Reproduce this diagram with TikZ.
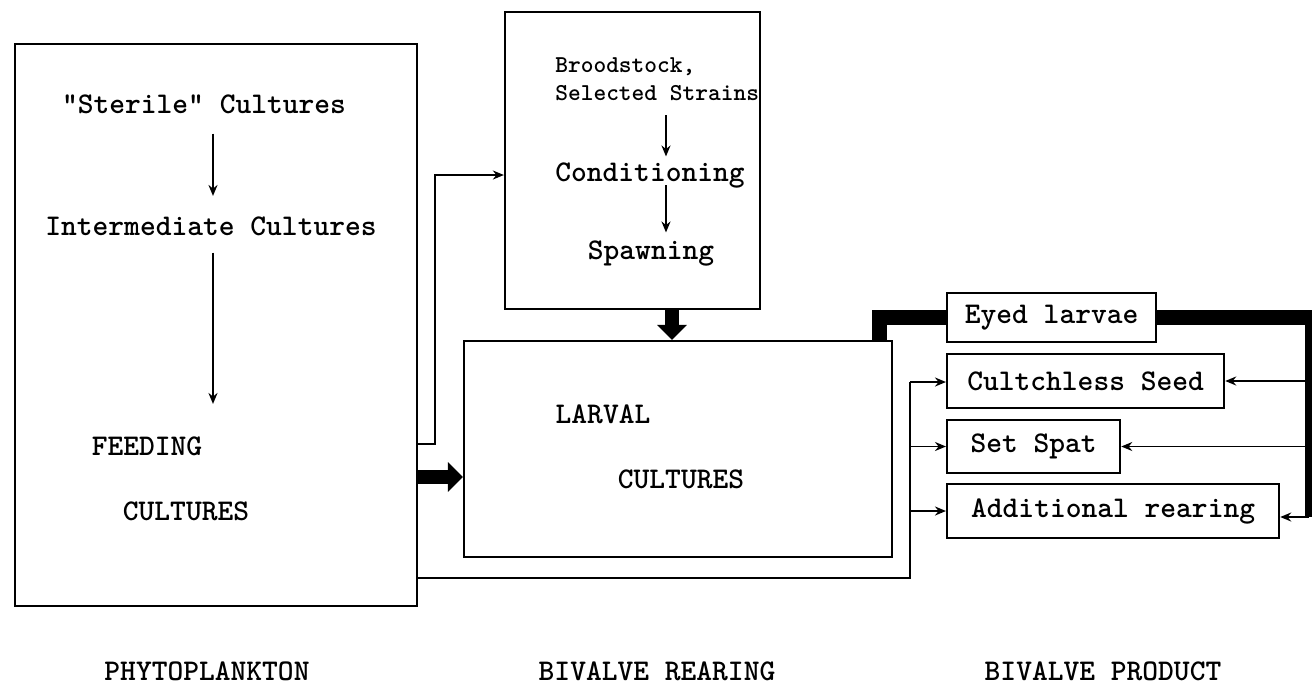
\documentclass[tikz,border=0pt]{standalone}
\usetikzlibrary{arrows.meta}
\begin{document}
\begin{tikzpicture}[x=0.02cm, y=-0.02cm,
    box/.style={draw, line width=1.3pt, inner sep=0pt},
    smallbox/.style={box, anchor=west, minimum height=1.08cm, font=\fontsize{17.1}{20}\selectfont\ttfamily\bfseries},
    txt/.style={font=\fontsize{17.1}{20}\selectfont\ttfamily\bfseries, inner sep=0pt, anchor=base},
    smalltxt/.style={txt, font=\fontsize{13.8}{16}\selectfont\ttfamily\bfseries, anchor=base west},
    wire/.style={line width=1.1pt},
    flow/.style={-{Stealth[length=0.22cm,width=0.18cm]}, line width=1.1pt},
    heavy/.style={line width=0.3cm},
    heavyarrow/.style={-{Triangle[length=0.3cm,width=0.58cm]}, line width=0.27cm}]
    \useasboundingbox (0,0) rectangle (1313,691);

    % the three big blocks
    \node[box, minimum width=8.04cm, minimum height=11.24cm] (feed) at (216,325) {} ;
    \node[box, minimum width=5.1cm, minimum height=5.94cm] (brood) at (632.5,160.5) {} ;
    \node[box, minimum width=8.56cm, minimum height=4.32cm] (larval) at (678,449) {} ;

    % products
    \node[smallbox, minimum width=4.18cm, minimum height=0.98cm] (eyed) at (946,317.5) {Eyed larvae} ;
    \node[smallbox, minimum width=5.54cm] (cult) at (946,381) {Cultchless Seed} ;
    \node[smallbox, minimum width=3.46cm, minimum height=1.06cm] (spat) at (946,446.5) {Set Spat} ;
    \node[smallbox, minimum width=6.64cm] (addl) at (946,511) {Additional rearing} ;

    % texts inside the blocks
    \node[txt] (sterile) at (204,113) {"Sterile" Cultures} ;
    \node[txt] (inter) at (211,235) {Intermediate Cultures} ;
    \node[txt] (feeding) at (147,455) {FEEDING} ;
    \node[txt] (fcult) at (186,520) {CULTURES} ;
    \node[smalltxt] (brood1) at (555,72) {Broodstock,} ;
    \node[smalltxt] (brood2) at (555,100) {Selected Strains} ;
    \node[txt] (cond) at (650,181) {Conditioning} ;
    \node[txt] (spawn) at (651,259) {Spawning} ;
    \node[txt] (larv) at (603,423) {LARVAL} ;
    \node[txt] (lcult) at (681,488) {CULTURES} ;

    % column titles
    \node[txt] (phyto) at (207,680) {PHYTOPLANKTON} ;
    \node[txt] (rearing) at (657,680) {BIVALVE REARING} ;
    \node[txt] (product) at (1103,680) {BIVALVE PRODUCT} ;

    \coordinate (fdx) at (213,0) ;
    \coordinate (bdx) at (666,0) ;
    \coordinate (tdx) at (672,0) ;
    \coordinate (upjog) at (435,444) ;
    \coordinate (feedlvl) at (0,477) ;
    \coordinate (splitlo) at (910,578) ;
    \coordinate (splithi) at (910,382) ;
    \coordinate (eyejog) at (879,317.5) ;
    \coordinate (rtop) at (1312,317.5) ;
    \coordinate (rbot) at (1308.5,517) ;

    \draw[flow, shorten <=0.4cm, shorten >=0.4cm] (sterile.south -| fdx) -- (inter.north -| fdx) ;
    \draw[flow, shorten <=0.34cm, shorten >=0.64cm] (inter.south -| fdx) -- (feeding.north -| fdx) ;
    \draw[flow, shorten <=0.3cm, shorten >=0.11cm] (brood2.base -| bdx) -- (cond.north -| bdx) ;
    \draw[flow, shorten <=0.08cm, shorten >=0.15cm] (cond.base -| bdx) -- (spawn.north -| bdx) ;

    \draw[heavyarrow] (feed.east |- feedlvl) -- (larval.west |- feedlvl) ;
    \draw[heavyarrow] (brood.south -| tdx) -- (larval.north -| tdx) ;
    \draw[flow] (feed.east |- upjog) -- (upjog) |- (brood.west |- cond) ;

    \draw[wire] (feed.east |- splitlo) -- (splitlo) -- (splithi) ;
    \draw[flow] (splithi) -- (cult.west |- splithi) ;
    \draw[flow] (splitlo |- spat.west) -- (spat.west) ;
    \draw[flow] (splitlo |- addl.west) -- (addl.west) ;

    \draw[heavy] (eyejog |- larval.north) -- (eyejog) -- (eyed.west) ;
    \draw[heavy] (eyed.east) -- (rtop) ;
    \draw[line width=0.14cm] (rbot |- rtop) -- (rbot) ;
    \draw[flow] (rbot |- cult.east) -- (cult.east) ;
    \draw[flow] (rbot |- spat.east) -- (spat.east) ;
    \draw[flow] (rbot) -- (addl.east |- rbot) ;

\end{tikzpicture}
\end{document}
